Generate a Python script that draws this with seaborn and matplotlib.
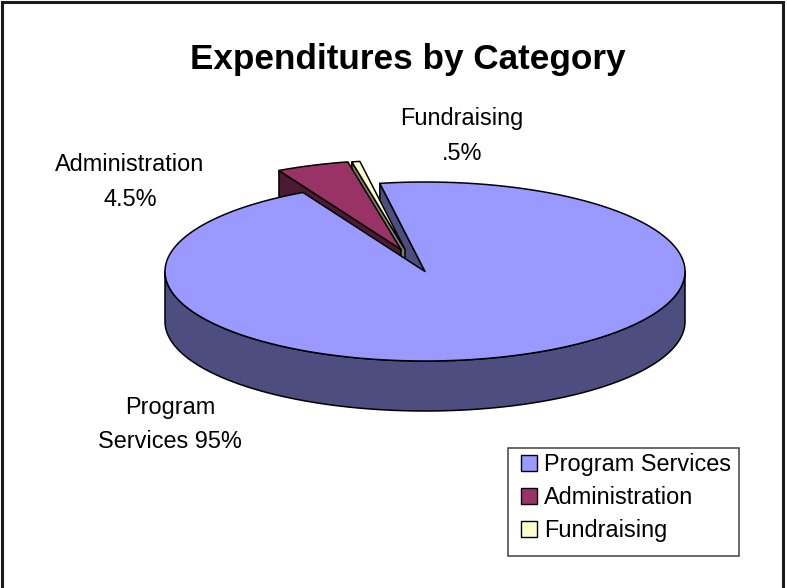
import numpy as np
import matplotlib
matplotlib.use("Agg")
import matplotlib.pyplot as plt
from matplotlib.patches import Polygon, Patch, Rectangle
import seaborn as sns

categories = ["Program Services", "Administration", "Fundraising"]
shares = [95.0, 4.5, 0.5]
slice_labels = ["Program\nServices 95%", "Administration\n4.5%", "Fundraising\n.5%"]
title = "Expenditures by Category"

sns.set_theme(style="white")
plt.rcParams["font.family"] = ["Liberation Sans", "DejaVu Sans"]

top_colors = sns.color_palette(["#9999FF", "#993366", "#FFFFCC"])
side_colors = sns.color_palette(["#4D4D80", "#4D1A33", "#808066"])

W, H = 787, 588
CX, CY, RX, RY, DEPTH = 425.0, 271.5, 260.0, 89.5, 50.0
START = -10.0  # clockwise from straight up, degrees
OFFSETS = [(0.0, 0.0), (-24.0, -22.0), (-20.0, -22.0)]


def project(angle_deg, radius=1.0):
    a = np.radians(angle_deg)
    return np.column_stack([CX + RX * radius * np.sin(a), CY - RY * radius * np.cos(a)])


def add(ax, pts, color, z, lw=1.1):
    ax.add_patch(Polygon(pts, closed=True, facecolor=color, edgecolor="black",
                         linewidth=lw, joinstyle="round", zorder=z))


fig = plt.figure(figsize=(W / 100, H / 100), dpi=100)
ax = fig.add_axes([0, 0, 1, 1])
ax.set_xlim(0, W)
ax.set_ylim(H, 0)
ax.axis("off")

edges = START + np.concatenate([[0], np.cumsum(shares)]) * 3.6
down = np.array([0, DEPTH])
apex = np.array([[CX, CY]])

# main slice: outer wall (front half), cut wall and top
a0, a1 = edges[0], edges[1]
front = project(np.linspace(90, 270, 200))
add(ax, np.vstack([front, (front + down)[::-1]]), side_colors[0], 2)
cut = np.vstack([project([a0]), apex, apex + down, project([a0]) + down])
add(ax, cut, side_colors[0], 1)
arc = project(np.linspace(a0, a1, 400))
add(ax, np.vstack([apex, arc]), top_colors[0], 10)

# pulled-out slices: cut wall on the left, then the top (fundraising sits behind)
for i, z in ((2, 3), (1, 5)):
    off = np.array(OFFSETS[i])
    tip = apex + off
    b0, b1 = edges[i], edges[i + 1]
    wall = np.vstack([project([b0]) + off, tip, tip + down, project([b0]) + off + down])
    add(ax, wall, side_colors[i], z)
    arc = project(np.linspace(b0, b1, 40)) + off
    add(ax, np.vstack([tip, arc]), top_colors[i], z + 1)

# figure frame
ax.plot([2, 2, 782.5, 782.5], [H + 5, 2, 2, H + 5], color="#1a1a1a", lw=2.2, zorder=20,
        clip_on=False, solid_joinstyle="miter")

ax.text(408, 60, title, ha="center", va="center", fontsize=25.3, fontweight="bold", color="black")
label_pos = [(170, 424.5), (130, 182), (462, 136)]
for (x, y), txt in zip(label_pos, slice_labels):
    ax.text(x, y, txt, ha="center", va="center", fontsize=16.9, color="black", linespacing=1.62)

# legend box, with the entries placed inside it
ax.add_patch(Rectangle((508, 448), 231, 108, facecolor="white", edgecolor="#404040",
                       linewidth=1.1, zorder=29))
handles = [Patch(facecolor=c, edgecolor="black", linewidth=1) for c in top_colors]
leg = ax.legend(handles, categories, loc="upper left", bbox_to_anchor=(512 / W, 1 - 444 / H),
                bbox_transform=ax.transAxes, fontsize=16.9, frameon=False,
                borderaxespad=0, handlelength=0.68,
                handleheight=0.68, handletextpad=0.3, labelspacing=0.42, borderpad=0.4,
                labelcolor="black")
leg.set_zorder(30)

fig.savefig("out.png", dpi=100, facecolor="white")
